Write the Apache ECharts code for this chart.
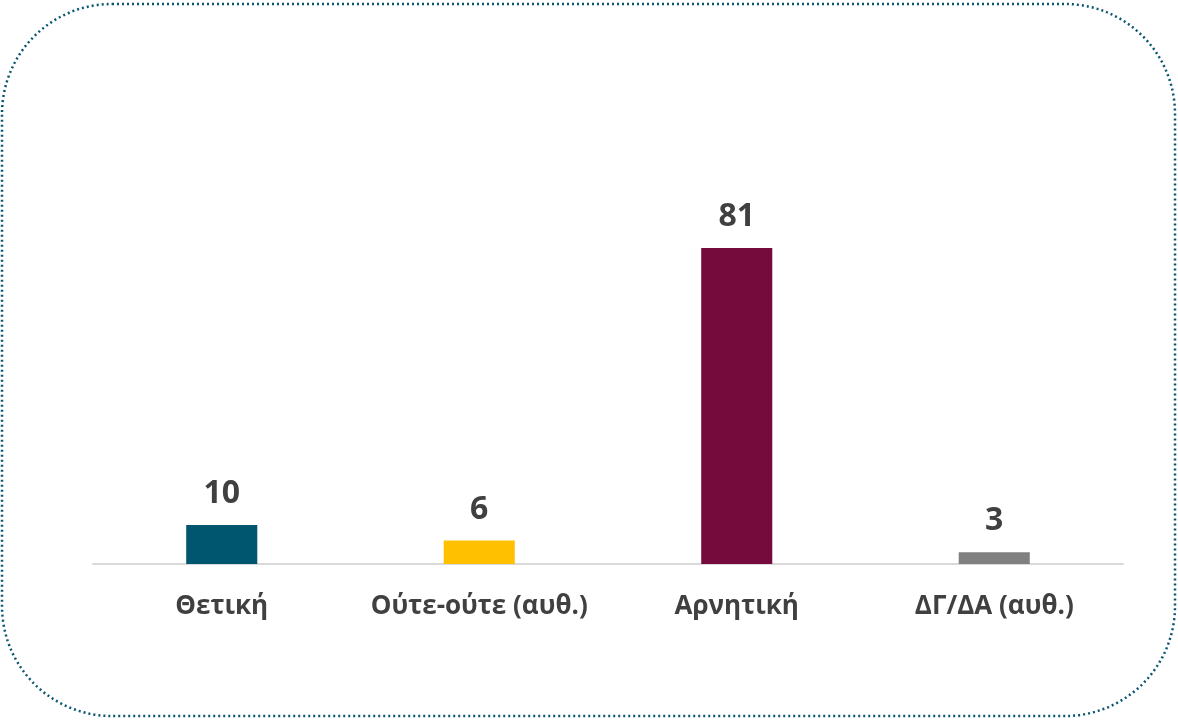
<!DOCTYPE html>
<html>
<head>
<meta charset="utf-8">
<script src="https://cdn.jsdelivr.net/npm/echarts@6/dist/echarts.min.js"></script>
<style>
  html, body { margin: 0; padding: 0; background: #fff; }
  #chart { width: 1178px; height: 721px; }
</style>
</head>
<body>
<div id="chart"></div>
<script>
// categories and values
var categories = ['Θετική', 'Ούτε-ούτε (αυθ.)', 'Αρνητική', 'ΔΓ/ΔΑ (αυθ.)'];
var values = [10, 6, 81, 3];
var barColors = ['#00566E', '#FFC000', '#740B3C', '#808080'];

var chart = echarts.init(document.getElementById('chart'));

var option = {
    animation: false,
    backgroundColor: '#ffffff',
    textStyle: { fontFamily: 'Open Sans' },
    grid: { left: 93, right: 55, top: 174, bottom: 157 },
    // dotted rounded frame
    graphic: [{
        type: 'rect',
        shape: { x: 2, y: 4, width: 1173, height: 712, r: 110 },
        style: { fill: 'none', stroke: '#0A5670', lineWidth: 2.5, lineDash: [2, 3] },
        silent: true
    }],
    xAxis: {
        type: 'category',
        data: categories,
        axisTick: { show: false },
        axisLine: { lineStyle: { color: '#D9D9D9', width: 2 } },
        axisLabel: {
            color: '#404040',
            fontWeight: 'bold',
            fontSize: 26,
            margin: 30,
            interval: 0
        }
    },
    yAxis: {
        type: 'value',
        min: 0,
        max: 100,
        show: false,
        splitLine: { show: false }
    },
    series: [{
        type: 'bar',
        barWidth: '27.6%',
        data: values.map(function (v, i) {
            return { value: v, itemStyle: { color: barColors[i] } };
        }),
        label: {
            show: true,
            position: 'top',
            distance: 15,
            color: '#404040',
            fontWeight: 'bold',
            fontSize: 32
        }
    }]
};

chart.setOption(option);
</script>
</body>
</html>
